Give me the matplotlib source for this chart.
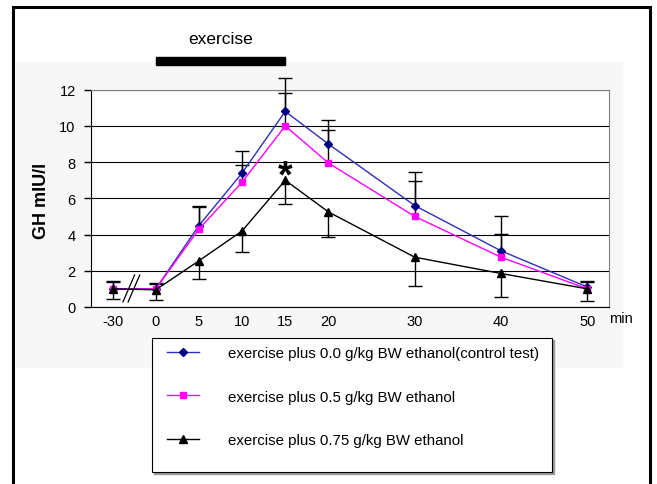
import matplotlib
matplotlib.use('Agg')
import matplotlib.pyplot as plt
from matplotlib.patches import Rectangle
from matplotlib.transforms import blended_transform_factory

plt.rcParams['font.family'] = ['Liberation Sans', 'DejaVu Sans']

W, H = 657, 485

# sampling times (min); -30 sits just before the axis break
times = ['-30', '0', '5', '10', '15', '20', '30', '40', '50']
x_pos = [-5, 0, 5, 10, 15, 20, 30, 40, 50]

labels = ['exercise plus 0.0 g/kg BW ethanol(control test)',
          'exercise plus 0.5 g/kg BW ethanol',
          'exercise plus 0.75 g/kg BW ethanol']

gh_control = [1.0, 1.0, 4.5, 7.4, 10.8, 9.0, 5.6, 3.1, 1.1]
gh_05 = [1.0, 1.0, 4.3, 6.9, 10.0, 7.95, 5.0, 2.75, 1.0]
gh_075 = [1.0, 0.95, 2.55, 4.2, 7.0, 5.25, 2.75, 1.85, 1.0]

# error bars: control and 0.5 drawn upwards, 0.75 drawn downwards
err_control = [0.45, 0.3, 1.05, 1.2, 1.85, 1.35, 1.85, 1.9, 0.35]
err_05 = [0.4, 0.25, 1.2, 0.95, 1.8, 1.85, 1.95, 1.3, 0.4]
err_075 = [0.55, 0.55, 1.0, 1.15, 1.3, 1.4, 1.6, 1.3, 0.65]

exercise_start, exercise_end = 0, 15
sig_index = 4  # asterisk over 0.75 g/kg at 15 min


def fx(px):
    return px / W


def fy(py):
    return 1 - py / H


fig = plt.figure(figsize=(W / 100, H / 100), dpi=100)

# outer frame and grey chart area
fig.patches.append(Rectangle((fx(16), fy(368)), fx(622 - 16), (368 - 63) / H,
                             transform=fig.transFigure, color='#f7f7f7', zorder=-2))
fig.patches.append(Rectangle((fx(13), fy(492)), fx(650 - 13), (492 - 8) / H,
                             transform=fig.transFigure, fill=False, ec='black',
                             lw=2.2, zorder=3))

ax = fig.add_axes([fx(91), fy(308), fx(609 - 91), (308 - 90.7) / H])
ax.set_zorder(1)
ax.set_facecolor('white')

series = [
    (gh_control, err_control, 'up', dict(color='#2e2eb8', marker='D', mfc='#000080',
                                         mec='#000080', ms=4.5)),
    (gh_05, err_05, 'up', dict(color='#ff00ff', marker='s', mfc='#ff00ff',
                               mec='#ff00ff', ms=4.3)),
    (gh_075, err_075, 'down', dict(color='black', marker='^', mfc='black',
                                   mec='black', ms=5.5)),
]

handles = []
for vals, err, side, style in series:
    zeros = [0] * len(err)
    yerr = [zeros, err] if side == 'up' else [err, zeros]
    _, caps, bars = ax.errorbar(x_pos, vals, yerr=yerr, fmt='none', ecolor='black',
                                elinewidth=1, capsize=5, capthick=1, zorder=3)
    # drop the cap sitting on the data point itself
    caps[0 if side == 'up' else 1].remove()
    for art in list(caps) + list(bars):
        art.set_clip_on(False)
    line, = ax.plot(x_pos, vals, lw=1, zorder=4, **style)
    handles.append(line)

ax.text(x_pos[sig_index], gh_075[sig_index] - 0.34, '*', fontsize=27,
        fontweight='bold', ha='center', va='baseline', zorder=5)

# axis break marks between -30 and 0
for dx in (0, 0.6):
    ax.plot([-3.8 + dx, -2.45 + dx], [0.28, 1.77], color='black', lw=0.9, zorder=4)

ax.set_xlim(-7.5, 52.5)
ax.set_ylim(0, 12)
ax.set_xticks(x_pos)
ax.set_xticklabels(times)
ax.set_yticks(range(0, 13, 2))
ax.tick_params(axis='y', length=5, width=1, pad=6, labelsize=10.5)
ax.tick_params(axis='x', length=0, pad=5, labelsize=10.5)
ax.yaxis.grid(True, color='black', lw=0.8)
ax.set_axisbelow(True)
for side in ('top', 'right'):
    ax.spines[side].set_color('#808080')
for side in ('left', 'bottom'):
    ax.spines[side].set_color('black')

fig.text(fx(621), fy(319), 'min', ha='center', va='center', fontsize=10.5)
fig.text(fx(42), fy(201), 'GH mIU/l', rotation=90, ha='center', va='center',
         fontsize=13, fontweight='bold')

# exercise period bar above the plot
trans = blended_transform_factory(ax.transData, fig.transFigure)
ax.add_patch(Rectangle((exercise_start, fy(66)), exercise_end - exercise_start,
                       8 / H, transform=trans, color='black', clip_on=False))
ax.text((exercise_start + exercise_end) / 2, fy(39), 'exercise', transform=trans,
        ha='center', va='center', fontsize=12.5)

# legend box
fig.patches.append(Rectangle((fx(154), fy(475)), fx(400), (473 - 339) / H,
                             transform=fig.transFigure, color='#999999', zorder=2))
fig.patches.append(Rectangle((fx(152), fy(473)), fx(400), (473 - 339) / H,
                             transform=fig.transFigure, fc='white', ec='black',
                             lw=0.8, zorder=2))
leg = fig.legend(handles, labels, loc='upper left', bbox_to_anchor=(fx(167), fy(347)),
                 frameon=False, borderpad=0, borderaxespad=0, handlelength=2.13,
                 handletextpad=1.93, labelspacing=1.98, fontsize=10.8)
leg.set_zorder(6)

fig.savefig('out.png', dpi=100)
